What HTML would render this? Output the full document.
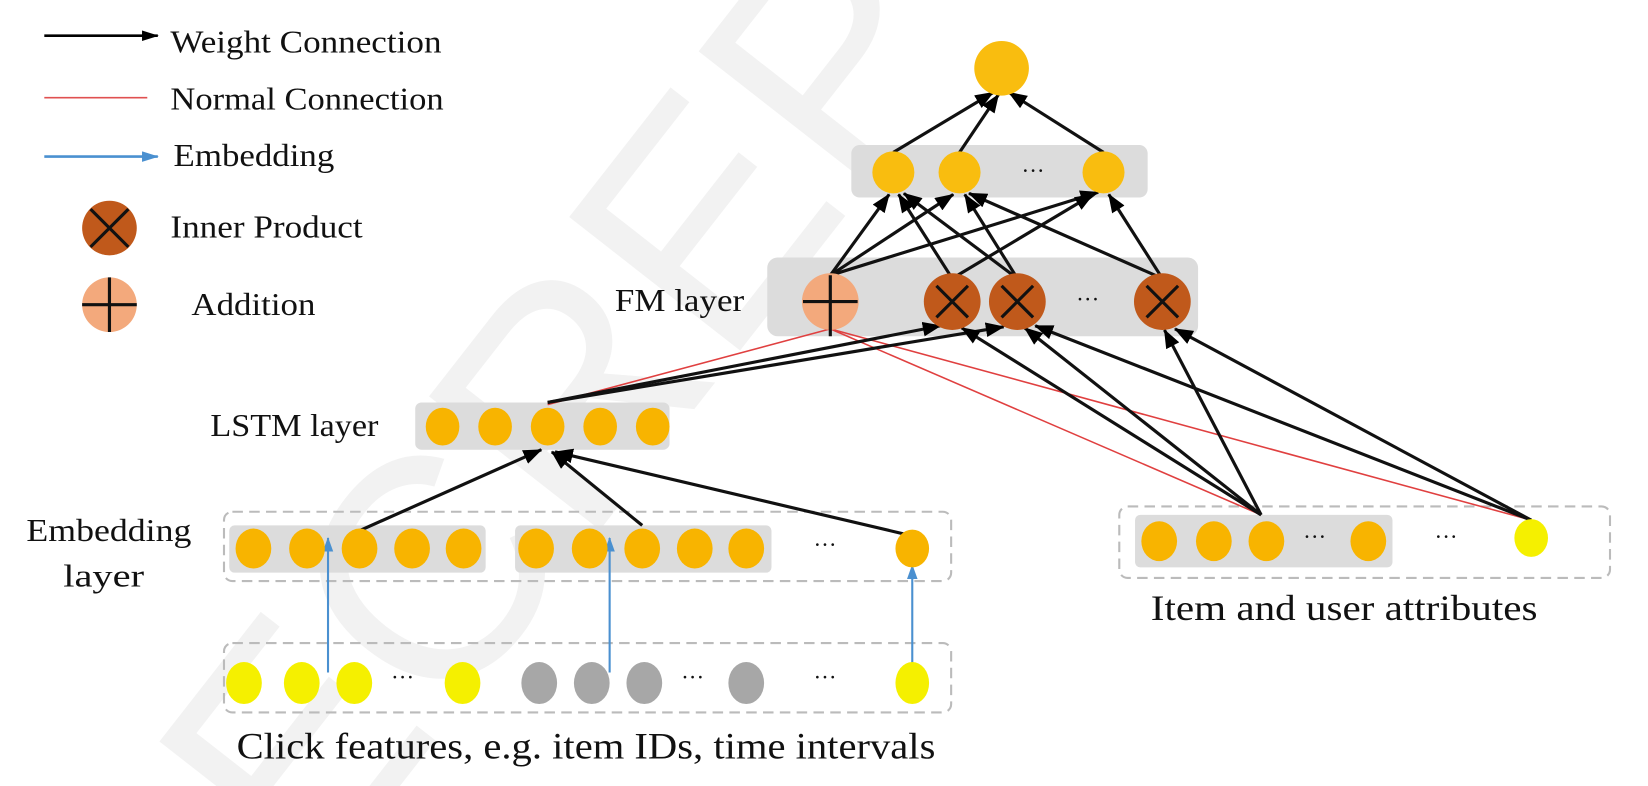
<!DOCTYPE html>
<html><head><meta charset="utf-8"><style>
html,body{margin:0;padding:0;background:#fff;overflow:hidden;width:1648px;height:786px;}
svg{display:block;}
text{font-family:"Liberation Serif",serif;fill:#111;}
</style></head><body>
<svg width="1648" height="786" viewBox="0 0 1568 748" xmlns="http://www.w3.org/2000/svg">
<defs>
<marker id="ab" markerWidth="16" markerHeight="10" refX="15" refY="5" orient="auto" markerUnits="userSpaceOnUse" viewBox="0 0 16 10"><path d="M0,0 L16,5 L0,10 z" fill="#000"/></marker>
<marker id="abb" markerWidth="16" markerHeight="10" refX="15" refY="5" orient="auto" markerUnits="userSpaceOnUse" viewBox="0 0 16 10"><path d="M0,0 L16,5 L0,10 z" fill="#4a90d0"/></marker>
<marker id="ak" markerWidth="18" markerHeight="14" refX="17" refY="7" orient="auto" markerUnits="userSpaceOnUse" viewBox="0 0 18 14"><path d="M0,0 L18,7 L0,14 z" fill="#000"/></marker>
<marker id="abl" markerWidth="14" markerHeight="10" refX="13" refY="5" orient="auto" markerUnits="userSpaceOnUse" viewBox="0 0 14 10"><path d="M0,0 L14,5 L0,10 z" fill="#4a90d0"/></marker>
</defs>
<!-- watermark -->
<g transform="rotate(-52 500 400)">
<text x="20" y="520" style="fill:#f2f2f2;font-family:'Liberation Sans',sans-serif;font-size:300px">ECREPO</text>
</g>
<!-- legend -->
<line x1="42" y1="34" x2="150" y2="34" stroke="#000" stroke-width="2.5" marker-end="url(#ab)"/>
<text x="162" y="50" font-size="30" textLength="258" lengthAdjust="spacingAndGlyphs">Weight Connection</text>
<line x1="42" y1="93" x2="140" y2="93" stroke="#e05050" stroke-width="1.5"/>
<text x="162" y="104" font-size="30" textLength="260" lengthAdjust="spacingAndGlyphs">Normal Connection</text>
<line x1="42" y1="149" x2="150" y2="149" stroke="#4a90d0" stroke-width="2.5" marker-end="url(#abb)"/>
<text x="165" y="158" font-size="30" textLength="153" lengthAdjust="spacingAndGlyphs">Embedding</text>
<circle cx="104" cy="217" r="26" fill="#c0591b"/>
<path d="M86,199 L122,235 M122,199 L86,235" stroke="#111" stroke-width="3"/>
<text x="162" y="226" font-size="30" textLength="183" lengthAdjust="spacingAndGlyphs">Inner Product</text>
<circle cx="104" cy="290" r="26" fill="#f3a97c"/>
<path d="M78,290 L130,290 M104,264 L104,316" stroke="#111" stroke-width="3"/>
<text x="182" y="300" font-size="30" textLength="118" lengthAdjust="spacingAndGlyphs">Addition</text>
<!-- boxes -->
<rect x="810" y="138" width="282" height="50" rx="8" fill="#dcdcdc"/>
<rect x="730" y="245" width="410" height="75" rx="10" fill="#dcdcdc"/>
<rect x="395" y="383" width="242" height="45" rx="6" fill="#dcdcdc"/>
<rect x="213" y="487" width="692" height="66" rx="8" fill="none" stroke="#bbb" stroke-width="2" stroke-dasharray="10,6"/>
<rect x="218" y="500" width="244" height="45" rx="5" fill="#dcdcdc"/>
<rect x="490" y="500" width="244" height="45" rx="5" fill="#dcdcdc"/>
<rect x="213" y="612" width="692" height="66" rx="8" fill="none" stroke="#bbb" stroke-width="2" stroke-dasharray="10,6"/>
<rect x="1065" y="482" width="467" height="68" rx="8" fill="none" stroke="#bbb" stroke-width="2" stroke-dasharray="10,6"/>
<rect x="1080" y="490" width="245" height="50" rx="5" fill="#dcdcdc"/>
<!-- red lines -->
<g stroke="#e04040" stroke-width="1.5" fill="none">
<line x1="521" y1="385" x2="790" y2="313"/>
<line x1="1200" y1="490" x2="790" y2="313"/>
<line x1="1457" y1="495" x2="790" y2="313"/>
</g>
<!-- black arrows -->
<g stroke="#111" stroke-width="3" fill="none" marker-end="url(#ak)">
<line x1="342" y1="505" x2="515" y2="428"/>
<line x1="611" y1="500" x2="525" y2="430"/>
<line x1="868" y1="510" x2="528" y2="430"/>
<line x1="521" y1="383" x2="895" y2="310"/>
<line x1="521" y1="383" x2="955" y2="311"/>
<line x1="1200" y1="490" x2="915" y2="312"/>
<line x1="1200" y1="490" x2="975" y2="312"/>
<line x1="1200" y1="490" x2="1108" y2="314"/>
<line x1="1457" y1="495" x2="985" y2="310"/>
<line x1="1457" y1="495" x2="1118" y2="313"/>
<line x1="790" y1="262" x2="846" y2="185"/>
<line x1="790" y1="262" x2="907" y2="185"/>
<line x1="790" y1="262" x2="1045" y2="183"/>
<line x1="906" y1="265" x2="855" y2="185"/>
<line x1="906" y1="265" x2="1040" y2="185"/>
<line x1="968" y1="265" x2="860" y2="184"/>
<line x1="968" y1="265" x2="918" y2="185"/>
<line x1="1106" y1="265" x2="922" y2="184"/>
<line x1="1106" y1="265" x2="1055" y2="185"/>
<line x1="850" y1="145" x2="945" y2="88"/>
<line x1="913" y1="145" x2="950" y2="90"/>
<line x1="1050" y1="145" x2="960" y2="88"/>
</g>
<!-- blue arrows -->
<g stroke="#4a90d0" stroke-width="2" marker-end="url(#abl)">
<line x1="312" y1="640" x2="312" y2="512"/>
<line x1="580" y1="640" x2="580" y2="512"/>
<line x1="868" y1="640" x2="868" y2="538"/>
</g>
<!-- nodes -->
<circle cx="953" cy="65" r="26" fill="#f9bd0f"/>
<g fill="#f9bd0f"><circle cx="850" cy="164" r="20"/><circle cx="913" cy="164" r="20"/><circle cx="1050" cy="164" r="20"/></g>
<text x="972" y="170" font-size="22">···</text>
<circle cx="790" cy="287" r="27" fill="#f3a97c"/>
<path d="M764,287 L816,287 M790,262 L790,320" stroke="#111" stroke-width="3"/>
<g fill="#c0591b"><circle cx="906" cy="287" r="27"/><circle cx="968" cy="287" r="27"/><circle cx="1106" cy="287" r="27"/></g>
<path d="M891,272 L921,302 M921,272 L891,302 M953,272 L983,302 M983,272 L953,302 M1091,272 L1121,302 M1121,272 L1091,302" stroke="#111" stroke-width="3"/>
<text x="1024" y="292" font-size="22">···</text>
<text x="585" y="296" font-size="30" textLength="123" lengthAdjust="spacingAndGlyphs">FM layer</text>
<g fill="#f8b400"><ellipse cx="421" cy="406" rx="16" ry="18"/><ellipse cx="471" cy="406" rx="16" ry="18"/><ellipse cx="521" cy="406" rx="16" ry="18"/><ellipse cx="571" cy="406" rx="16" ry="18"/><ellipse cx="621" cy="406" rx="16" ry="18"/></g>
<text x="200" y="415" font-size="30" textLength="160" lengthAdjust="spacingAndGlyphs">LSTM layer</text>
<g fill="#f8b400">
<ellipse cx="241" cy="522" rx="17" ry="19"/><ellipse cx="292" cy="522" rx="17" ry="19"/><ellipse cx="342" cy="522" rx="17" ry="19"/><ellipse cx="392" cy="522" rx="17" ry="19"/><ellipse cx="441" cy="522" rx="17" ry="19"/>
<ellipse cx="510" cy="522" rx="17" ry="19"/><ellipse cx="561" cy="522" rx="17" ry="19"/><ellipse cx="611" cy="522" rx="17" ry="19"/><ellipse cx="661" cy="522" rx="17" ry="19"/><ellipse cx="710" cy="522" rx="17" ry="19"/>
<ellipse cx="868" cy="522" rx="16" ry="18"/>
</g>
<text x="774" y="526" font-size="22">···</text>
<text x="25" y="515" font-size="30" textLength="157" lengthAdjust="spacingAndGlyphs">Embedding</text>
<text x="60" y="558" font-size="30" textLength="77" lengthAdjust="spacingAndGlyphs">layer</text>
<g fill="#f5f000">
<ellipse cx="232" cy="650" rx="17" ry="20"/><ellipse cx="287" cy="650" rx="17" ry="20"/><ellipse cx="337" cy="650" rx="17" ry="20"/><ellipse cx="440" cy="650" rx="17" ry="20"/><ellipse cx="868" cy="650" rx="16" ry="20"/>
</g>
<g fill="#a7a7a7">
<ellipse cx="513" cy="650" rx="17" ry="20"/><ellipse cx="563" cy="650" rx="17" ry="20"/><ellipse cx="613" cy="650" rx="17" ry="20"/><ellipse cx="710" cy="650" rx="17" ry="20"/>
</g>
<text x="372" y="652" font-size="22">···</text>
<text x="648" y="652" font-size="22">···</text>
<text x="774" y="652" font-size="22">···</text>
<text x="225" y="722" font-size="35" textLength="665" lengthAdjust="spacingAndGlyphs">Click features, e.g. item IDs, time intervals</text>
<g fill="#f8b400"><ellipse cx="1103" cy="515" rx="17" ry="19"/><ellipse cx="1155" cy="515" rx="17" ry="19"/><ellipse cx="1205" cy="515" rx="17" ry="19"/><ellipse cx="1302" cy="515" rx="17" ry="19"/></g>
<text x="1240" y="518" font-size="22">···</text>
<text x="1365" y="518" font-size="22">···</text>
<ellipse cx="1457" cy="512" rx="16" ry="18" fill="#f5f000"/>
<text x="1095" y="590" font-size="34" textLength="368" lengthAdjust="spacingAndGlyphs">Item and user attributes</text>
</svg>
</body></html>
